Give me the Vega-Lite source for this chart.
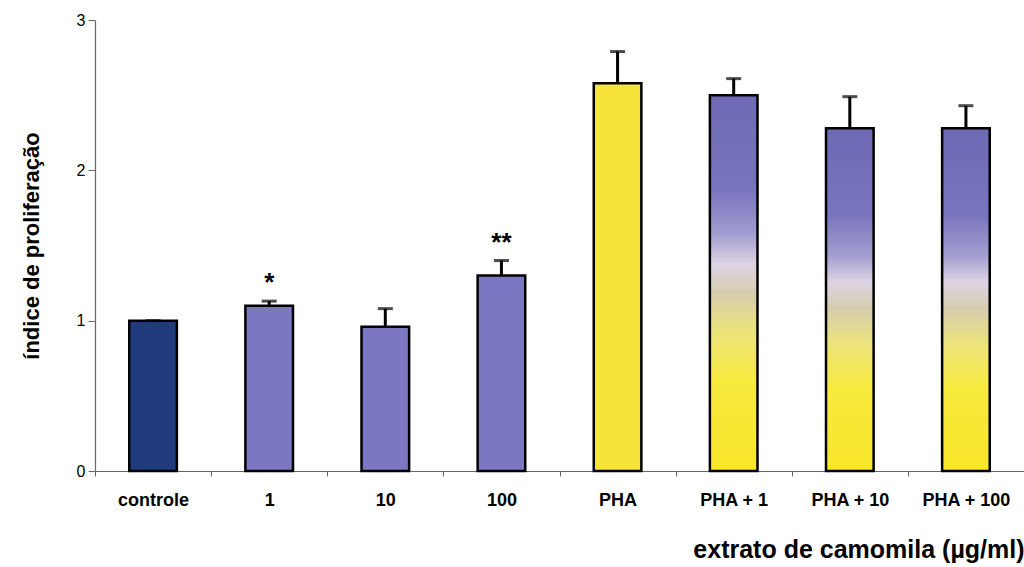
{
  "$schema": "https://vega.github.io/schema/vega-lite/v6.json",
  "width": 929,
  "height": 451,
  "autosize": {"type": "none"},
  "padding": {"left": 95, "top": 20, "right": 0, "bottom": 96},
  "background": "#ffffff",
  "config": {
    "view": {"stroke": null},
    "font": "Liberation Sans",
    "axis": {"grid": false}
  },
  "data": {
    "values": [
      {"grupo": "controle", "indice": 1.0, "erro": 1.0, "tipo": "controle", "sig": ""},
      {"grupo": "1", "indice": 1.10, "erro": 1.13, "tipo": "camomila", "sig": "*"},
      {"grupo": "10", "indice": 0.96, "erro": 1.08, "tipo": "camomila", "sig": ""},
      {"grupo": "100", "indice": 1.30, "erro": 1.40, "tipo": "camomila", "sig": "**"},
      {"grupo": "PHA", "indice": 2.58, "erro": 2.79, "tipo": "PHA", "sig": ""},
      {"grupo": "PHA + 1", "indice": 2.50, "erro": 2.61, "tipo": "PHA+camomila", "sig": ""},
      {"grupo": "PHA + 10", "indice": 2.28, "erro": 2.49, "tipo": "PHA+camomila", "sig": ""},
      {"grupo": "PHA + 100", "indice": 2.28, "erro": 2.43, "tipo": "PHA+camomila", "sig": ""}
    ]
  },
  "encoding": {
    "x": {
      "field": "grupo",
      "type": "nominal",
      "sort": null,
      "scale": {"paddingInner": 0, "paddingOuter": 0},
      "axis": {
        "title": "extrato de camomila (µg/ml)",
        "titleFont": "Liberation Sans",
        "titleFontSize": 25,
        "titleFontWeight": "bold",
        "titleColor": "#000000",
        "titleAnchor": "end",
        "titlePadding": 28,
        "labelAngle": 0,
        "labelFontSize": 18,
        "labelFontWeight": "bold",
        "labelColor": "#000000",
        "labelPadding": 15,
        "tickBand": "extent",
        "tickSize": 5,
        "tickColor": "#666666",
        "domainColor": "#666666",
        "domainWidth": 1.2
      }
    }
  },
  "layer": [
    {
      "transform": [{"filter": "datum.tipo === 'controle' || datum.tipo === 'camomila' || datum.tipo === 'PHA'"}],
      "mark": {"type": "bar", "width": {"band": 0.41}, "stroke": "#000000", "strokeWidth": 2.5},
      "encoding": {
        "y": {
          "field": "indice",
          "type": "quantitative",
          "scale": {"domain": [0, 3], "nice": false},
          "axis": {
            "title": "índice de proliferação",
            "titleFontSize": 22,
            "titleFontWeight": "bold",
            "titleColor": "#000000",
            "titlePadding": 33,
            "values": [0, 1, 2, 3],
            "format": "d",
            "labelFontSize": 16,
            "labelColor": "#000000",
            "labelPadding": 3,
            "tickSize": 7,
            "tickColor": "#666666",
            "domainColor": "#666666",
            "domainWidth": 1.2
          }
        },
        "color": {
          "field": "tipo",
          "type": "nominal",
          "scale": {"domain": ["controle", "camomila", "PHA"], "range": ["#1f3a7d", "#7b77c3", "#f6e43a"]},
          "legend": null
        }
      }
    },
    {
      "transform": [{"filter": "datum.tipo === 'PHA+camomila'"}],
      "mark": {
        "type": "bar",
        "width": {"band": 0.41},
        "stroke": "#000000",
        "strokeWidth": 2.5,
        "color": {
          "gradient": "linear",
          "x1": 0, "y1": 0, "x2": 0, "y2": 1,
          "stops": [
            {"offset": 0, "color": "#6d69b4"},
            {"offset": 0.25, "color": "#7874bd"},
            {"offset": 0.37, "color": "#a29dd0"},
            {"offset": 0.45, "color": "#ddd4e4"},
            {"offset": 0.53, "color": "#d6cdac"},
            {"offset": 0.63, "color": "#ede47c"},
            {"offset": 0.76, "color": "#f8ea3e"},
            {"offset": 1, "color": "#f8e62a"}
          ]
        }
      },
      "encoding": {
        "y": {"field": "indice", "type": "quantitative"}
      }
    },
    {
      "mark": {"type": "rule", "color": "#000000", "strokeWidth": 3},
      "encoding": {
        "y": {"field": "indice", "type": "quantitative"},
        "y2": {"field": "erro"}
      }
    },
    {
      "mark": {"type": "tick", "color": "#000000", "thickness": 3, "size": 15},
      "encoding": {
        "y": {"field": "erro", "type": "quantitative"}
      }
    },
    {
      "mark": {"type": "text", "fontSize": 26, "fontWeight": "bold", "color": "#000000", "baseline": "middle", "dy": -18},
      "encoding": {
        "y": {"field": "erro", "type": "quantitative"},
        "text": {"field": "sig"}
      }
    }
  ]
}
